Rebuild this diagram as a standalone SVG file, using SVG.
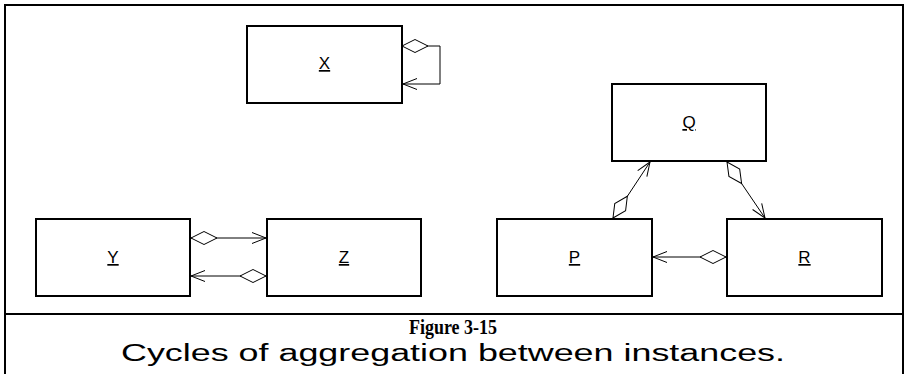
<svg xmlns="http://www.w3.org/2000/svg" width="907" height="374" viewBox="0 0 907 374">
<style>
.box{fill:#fff;stroke:#000;stroke-width:2}
.lbl{font-family:"Liberation Sans",Arial,sans-serif;font-size:17px;text-anchor:middle;text-decoration:underline}
.conn{fill:none;stroke:#000;stroke-width:1}
</style>
<defs>
<marker id="dia" markerUnits="userSpaceOnUse" markerWidth="30" markerHeight="16" refX="0" refY="7" orient="auto" overflow="visible">
<path d="M0,7 L13,0.5 L26,7 L13,13.5 Z" fill="#fff" stroke="#000" stroke-width="1"/>
</marker>
<marker id="arr" markerUnits="userSpaceOnUse" markerWidth="16" markerHeight="14" refX="14" refY="7" orient="auto" overflow="visible">
<path d="M0,1.5 L14,7 L0,12.5" fill="none" stroke="#000" stroke-width="1"/>
</marker>
</defs>
<rect x="0" y="0" width="907" height="374" fill="#fff"/>
<g id="frame" fill="none" stroke="#000" stroke-width="2">
<rect x="5" y="5" width="898" height="380"/>
<line x1="5" y1="314" x2="903" y2="314"/>
</g>
<g id="connectors">
<path class="conn" d="M402,46 H440 V84 H403" marker-start="url(#dia)" marker-end="url(#arr)"/>
<line class="conn" x1="191" y1="238" x2="266" y2="238" marker-start="url(#dia)" marker-end="url(#arr)"/>
<line class="conn" x1="266" y1="276" x2="191" y2="276" marker-start="url(#dia)" marker-end="url(#arr)"/>
<line class="conn" x1="726" y1="257" x2="653" y2="257" marker-start="url(#dia)" marker-end="url(#arr)"/>
<line class="conn" x1="613" y1="218" x2="650" y2="162" marker-start="url(#dia)" marker-end="url(#arr)"/>
<line class="conn" x1="727" y1="162" x2="765" y2="218" marker-start="url(#dia)" marker-end="url(#arr)"/>
</g>
<g id="node-X"><rect class="box" x="247" y="26" width="155" height="77"/><text class="lbl" x="324.5" y="69">X</text></g>
<g id="node-Y"><rect class="box" x="36" y="219" width="154" height="77"/><text class="lbl" x="113" y="263">Y</text></g>
<g id="node-Z"><rect class="box" x="267" y="219" width="154" height="77"/><text class="lbl" x="344" y="263">Z</text></g>
<g id="node-Q"><rect class="box" x="612" y="84" width="154" height="77"/><text class="lbl" x="689" y="128">Q</text></g>
<g id="node-P"><rect class="box" x="497" y="219" width="155" height="77"/><text class="lbl" x="574.5" y="263">P</text></g>
<g id="node-R"><rect class="box" x="727" y="219" width="155" height="77"/><text class="lbl" x="804.5" y="263">R</text></g>
<g id="caption">
<text x="453" y="334" font-family="'Liberation Serif','Times New Roman',serif" font-weight="bold" font-size="20" text-anchor="middle" textLength="88" lengthAdjust="spacingAndGlyphs">Figure 3-15</text>
<text x="121" y="361" font-family="'Liberation Sans',Arial,sans-serif" font-size="23" textLength="664" lengthAdjust="spacingAndGlyphs">Cycles of aggregation between instances.</text>
</g>
</svg>
